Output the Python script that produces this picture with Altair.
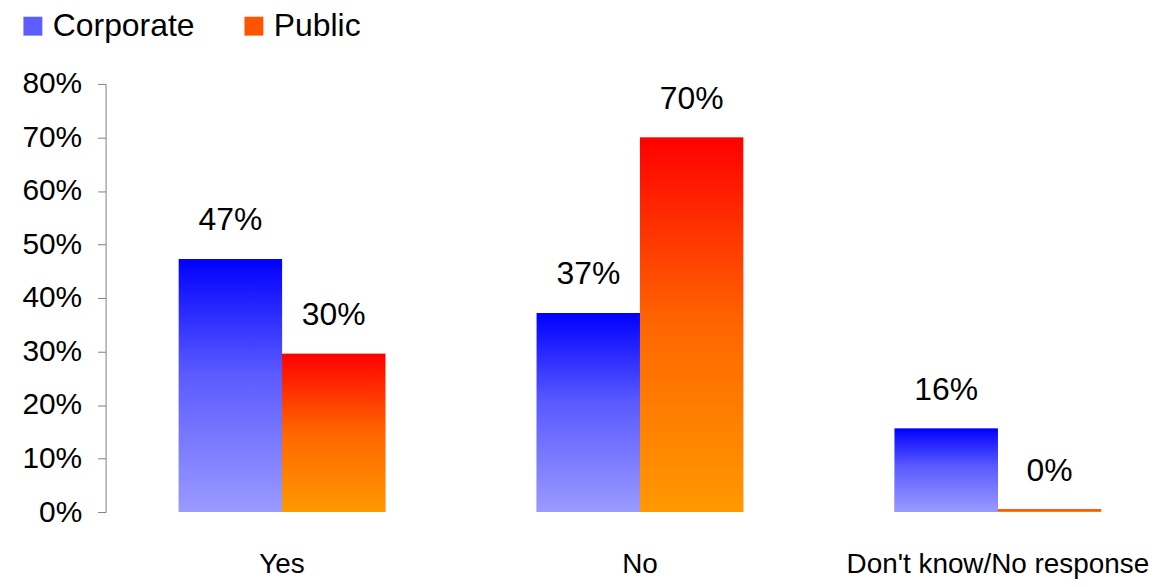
import altair as alt
import pandas as pd

categories = ["Yes", "No", "Don't know/No response"]
series = ["Corporate", "Public"]
corporate = [0.473, 0.372, 0.156]
public = [0.296, 0.700, 0.0049]

rows = []
for i, c in enumerate(categories):
    rows.append({"category": c, "series": "Corporate", "value": corporate[i]})
    rows.append({"category": c, "series": "Public", "value": public[i]})
df = pd.DataFrame(rows)

blue_grad = alt.LinearGradient(
    gradient="linear",
    stops=[alt.GradientStop(color="#9a9aff", offset=0),
           alt.GradientStop(color="#5a5aff", offset=0.55),
           alt.GradientStop(color="#0000ff", offset=1)],
    x1=0, x2=0, y1=1, y2=0,
)
red_grad = alt.LinearGradient(
    gradient="linear",
    stops=[alt.GradientStop(color="#ff9900", offset=0),
           alt.GradientStop(color="#ff6600", offset=0.5),
           alt.GradientStop(color="#ff0000", offset=1)],
    x1=0, x2=0, y1=1, y2=0,
)

x = alt.X(
    "category:N", sort=categories, title=None,
    scale=alt.Scale(paddingInner=0.423, paddingOuter=0.165, align=0.62),
    axis=alt.Axis(labelAngle=0, ticks=False, domain=False,
                  labelFont="Liberation Sans", labelFontSize=28,
                  labelColor="#000000", labelPadding=39, labelLimit=0),
)
xo = alt.XOffset("series:N", sort=series,
                 scale=alt.Scale(paddingInner=0, paddingOuter=0))
y = alt.Y(
    "value:Q", title=None,
    scale=alt.Scale(domain=[0, 0.8], nice=False),
    axis=alt.Axis(format=".0%", values=[0, 0.1, 0.2, 0.3, 0.4, 0.5, 0.6, 0.7, 0.8],
                  grid=False, tickSize=8, domainColor="#808080", tickColor="#808080",
                  labelFont="Liberation Sans", labelFontSize=30, labelColor="#000000",
                  labelPadding=16),
)

base = alt.Chart(df).encode(x=x, xOffset=xo, y=y)

legend_bars = base.mark_bar().encode(
    fill=alt.Fill(
        "series:N", sort=series,
        scale=alt.Scale(domain=series, range=["#5c5cff", "#ff5500"]),
        legend=alt.Legend(
            title=None, orient="none", legendX=-89, legendY=-74,
            direction="horizontal", symbolType="square", symbolSize=361,
            symbolStrokeWidth=0, labelFont="Liberation Sans", labelFontSize=32,
            labelColor="#000000", labelOffset=4, columnPadding=43, padding=0,
            labelLimit=0,
        ),
    )
)

grad_bars = base.mark_bar().encode(
    fill=alt.condition(alt.datum.series == "Corporate",
                       alt.value(blue_grad), alt.value(red_grad))
)

labels = base.mark_text(
    baseline="alphabetic", dy=-29, font="Liberation Sans", fontSize=32, color="#000000"
).encode(text=alt.Text("value:Q", format=".0%"))

chart = (
    alt.layer(legend_bars, grad_bars, labels)
    .properties(
        width=1045, height=430,
        autosize=alt.AutoSizeParams(type="none"),
        padding={"left": 98, "top": 75, "right": 4, "bottom": 66},
    )
    .configure_view(stroke=None)
)

chart.save("out.html", embed_options={"renderer": "svg", "actions": False})
